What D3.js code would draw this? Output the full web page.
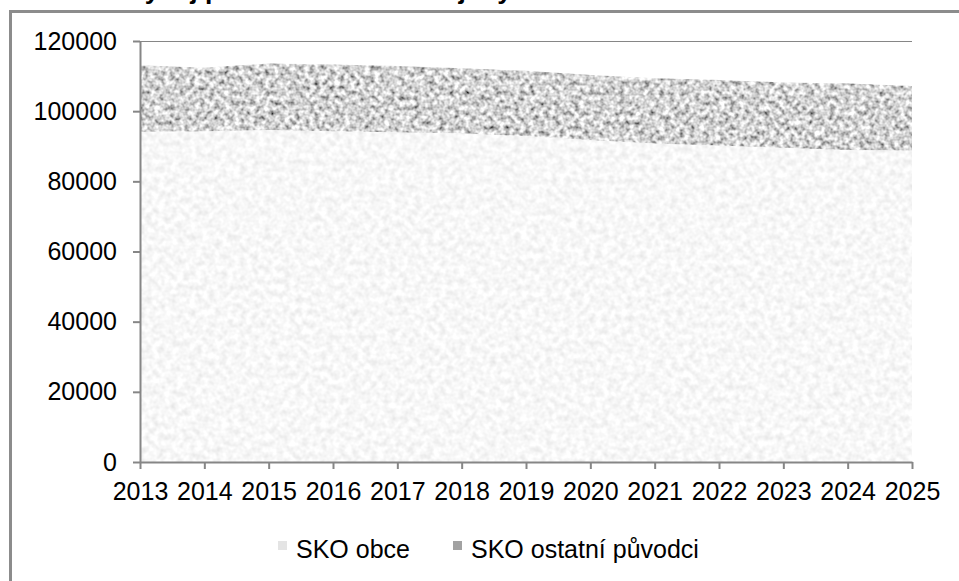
<!DOCTYPE html>
<html>
<head>
<meta charset="utf-8">
<script src="https://cdn.jsdelivr.net/npm/d3@7"></script>
<style>
	body { margin: 0; background: #fff; }
	svg { display: block; font-family: "Liberation Sans", Arial, sans-serif; }
</style>
</head>
<body>
<script>
// data (tonnes per year)
var years = [2013, 2014, 2015, 2016, 2017, 2018, 2019, 2020, 2021, 2022, 2023, 2024, 2025];
var skoObce = [94100, 94300, 94600, 94300, 94000, 93700, 92900, 91800, 90800, 90200, 89600, 88900, 88800];
var skoOstatni = [19000, 18100, 19000, 19000, 18900, 18500, 18600, 18500, 18600, 18700, 18600, 19000, 18400];
var yTicks = [0, 20000, 40000, 60000, 80000, 100000, 120000];
var seriesNames = ["SKO obce", "SKO ostatní původci"];
var title = "Vývoj produkce SKO v kraji Vysočina";

var width = 959, height = 581;
var margin = { left: 140, right: 47, top: 41, bottom: 119 };
var plotW = width - margin.left - margin.right,
	plotH = height - margin.top - margin.bottom;

var svg = d3.select("body").append("svg")
	.attr("width", width)
	.attr("height", height);

// soft noise textures for the two areas
var defs = svg.append("defs");
function texture(id, freq, k, offset) {
	var f = defs.append("filter")
		.attr("id", id)
		.attr("filterUnits", "userSpaceOnUse")
		.attr("x", 0).attr("y", 0)
		.attr("width", width).attr("height", height);
	f.append("feTurbulence")
		.attr("type", "fractalNoise")
		.attr("baseFrequency", freq)
		.attr("numOctaves", 2)
		.attr("seed", 7)
		.attr("result", "noise");
	f.append("feGaussianBlur")
		.attr("in", "noise")
		.attr("stdDeviation", 0.6)
		.attr("result", "soft");
	f.append("feColorMatrix")
		.attr("in", "soft")
		.attr("type", "matrix")
		.attr("values", [k, 0, 0, 0, offset, k, 0, 0, 0, offset, k, 0, 0, 0, offset, 0, 0, 0, 0, 1].join(" "))
		.attr("result", "gray");
	f.append("feComposite")
		.attr("in", "gray")
		.attr("in2", "SourceGraphic")
		.attr("operator", "in");
}
texture("texLight", 0.16, 0.35, 0.76);
texture("texDark", 0.2, 1.6, -0.15);
var fills = ["url(#texLight)", "url(#texDark)"];

// outer frame (only left and top edges visible)
svg.append("path")
	.attr("d", "M10.5,581V11.5H959")
	.attr("fill", "none")
	.attr("stroke", "#8c8c8c")
	.attr("stroke-width", 3);

// cut off title, only descenders show
svg.append("text")
	.attr("x", 127)
	.attr("y", -1)
	.attr("font-size", "26.5px")
	.attr("font-weight", "bold")
	.attr("fill", "#000")
	.text(title);

var g = svg.append("g")
	.attr("transform", "translate(" + margin.left + "," + margin.top + ")");

var x = d3.scaleLinear().domain([years[0], years[years.length - 1]]).range([0, plotW]);
var y = d3.scaleLinear().domain([0, 120000]).range([plotH, 0]);

// gridlines (hidden behind areas except the top one)
g.selectAll(".grid")
	.data(yTicks.slice(1))
	.enter()
	.append("line")
	.attr("x1", 0)
	.attr("x2", plotW)
	.attr("y1", function (d) { return y(d) + 0.5; })
	.attr("y2", function (d) { return y(d) + 0.5; })
	.attr("stroke", "#868686")
	.attr("stroke-width", 1);

// stacked areas
var table = years.map(function (yr, i) {
	return { year: yr, obce: skoObce[i], ostatni: skoOstatni[i] };
});
var stack = d3.stack().keys(["obce", "ostatni"]);
var layers = stack(table);

var area = d3.area()
	.x(function (d) { return x(d.data.year); })
	.y0(function (d) { return y(d[0]); })
	.y1(function (d) { return y(d[1]); });

g.selectAll(".layer")
	.data(layers)
	.enter()
	.append("path")
	.attr("d", area)
	.attr("fill", "#888")
	.attr("filter", function (d, i) { return fills[i]; });

// axes
var yAxis = g.append("g")
	.call(d3.axisLeft(y).tickValues(yTicks).tickSize(7).tickSizeOuter(0).tickFormat(d3.format("d")).tickPadding(16));
var xAxis = g.append("g")
	.attr("transform", "translate(0," + plotH + ")")
	.call(d3.axisBottom(x).tickValues(years).tickSize(7).tickSizeOuter(0).tickFormat(d3.format("d")).tickPadding(13));

[yAxis, xAxis].forEach(function (a) {
	a.select(".domain").attr("stroke", "#868686").attr("stroke-width", 2);
	a.selectAll(".tick line").attr("stroke", "#868686").attr("stroke-width", 2);
	a.selectAll("text")
		.attr("font-family", "Liberation Sans, Arial, sans-serif")
		.attr("font-size", "25px")
		.attr("fill", "#000");
});

// legend
var legendX = [278, 453];
var swatchColors = ["#e4e4e4", "#a2a2a2"];
var legend = svg.selectAll(".legend")
	.data(seriesNames)
	.enter()
	.append("g")
	.attr("transform", function (d, i) { return "translate(" + legendX[i] + ",541)"; });
legend.append("rect")
	.attr("width", 9)
	.attr("height", 9)
	.attr("fill", function (d, i) { return swatchColors[i]; });
legend.append("text")
	.attr("x", 18)
	.attr("y", 17)
	.attr("font-size", "25px")
	.attr("fill", "#000")
	.text(function (d) { return d; });
</script>
</body>
</html>
